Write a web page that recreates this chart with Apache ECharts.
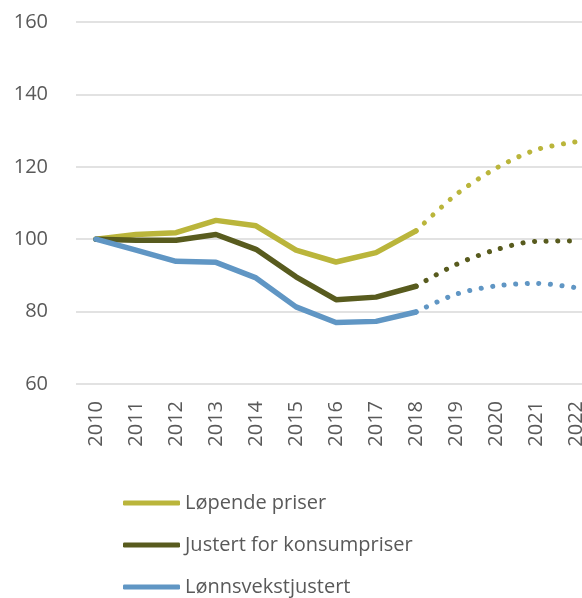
<!DOCTYPE html>
<html>
<head>
<meta charset="utf-8">
<script src="https://cdn.jsdelivr.net/npm/echarts@6/dist/echarts.min.js"></script>
<style>
    html, body { margin: 0; padding: 0; background: #fff; }
    #chart { width: 582px; height: 598px; }
</style>
</head>
<body>
<div id="chart"></div>
<script>
// årstall langs x-aksen
var years = ['2010', '2011', '2012', '2013', '2014', '2015', '2016', '2017', '2018', '2019', '2020', '2021', '2022'];
// faktiske tall 2010-2018
var lopende = [100, 101.3, 101.8, 105.2, 103.7, 97.0, 93.7, 96.3, 102.3];
var justert = [100, 99.7, 99.7, 101.3, 97.2, 89.6, 83.3, 84.0, 87.0];
var lonn = [100, 97.0, 93.9, 93.6, 89.3, 81.3, 77.0, 77.3, 79.9];
// anslag 2018-2022 (stiplet)
var lopendeAnslag = [102.3, 112.3, 119.6, 124.7, 126.9];
var justertAnslag = [87.0, 93.0, 97.1, 99.4, 99.5];
var lonnAnslag = [79.9, 84.8, 87.1, 87.8, 86.6];
var names = ['Løpende priser', 'Justert for konsumpriser', 'Lønnsvekstjustert'];
var colors = ['#BAB53B', '#585B1E', '#6096C4'];

function pad(list, from) {
    var out = [];
    for (var i = 0; i < years.length; i++) {
        var k = i - from;
        out.push(k >= 0 && k < list.length ? list[k] : null);
    }
    return out;
}

var solid = [lopende, justert, lonn];
var dotted = [lopendeAnslag, justertAnslag, lonnAnslag];
var series = [];
for (var s = 0; s < 3; s++) {
    series.push({
        name: names[s],
        type: 'line',
        data: pad(solid[s], 0),
        symbol: 'none',
        z: 3 + s,
        lineStyle: { color: colors[s], width: 5.5, cap: 'round', join: 'round' },
        itemStyle: { color: colors[s] },
    });
}
for (var d = 0; d < 3; d++) {
    series.push({
        name: names[d] + ' anslag',
        type: 'line',
        data: pad(dotted[d], 8),
        symbol: 'none',
        smooth: 0.3,
        z: 2,
        lineStyle: { color: colors[d], width: 5, type: [0.1, 11.5], cap: 'round' },
        itemStyle: { color: colors[d] },
    });
}

var chart = echarts.init(document.getElementById('chart'));
chart.setOption({
    animation: false,
    textStyle: { fontFamily: 'Open Sans' },
    grid: { left: 76, top: 22, width: 520, height: 362, outerBoundsMode: 'none', containLabel: false },
    legend: {
        data: names.map(function (n) { return { name: n, icon: 'roundRect' }; }),
        orient: 'vertical',
        left: 118,
        top: 488,
        height: 140,
        itemWidth: 57,
        itemHeight: 5,
        itemGap: 22,
        textStyle: { fontSize: 20, color: '#595959', fontFamily: 'Open Sans' },
    },
    xAxis: {
        type: 'category',
        data: years,
        boundaryGap: true,
        axisLine: { show: false },
        axisTick: { show: false },
        axisLabel: { rotate: 90, fontSize: 20, color: '#595959', margin: 17, fontFamily: 'Open Sans' },
    },
    yAxis: {
        type: 'value',
        min: 60,
        max: 160,
        interval: 20,
        axisLine: { show: false },
        axisTick: { show: false },
        axisLabel: { fontSize: 20, color: '#595959', margin: 28, fontFamily: 'Open Sans' },
        splitLine: { lineStyle: { color: '#D9D9D9', width: 1.5 } },
    },
    series: series,
});
</script>
</body>
</html>
